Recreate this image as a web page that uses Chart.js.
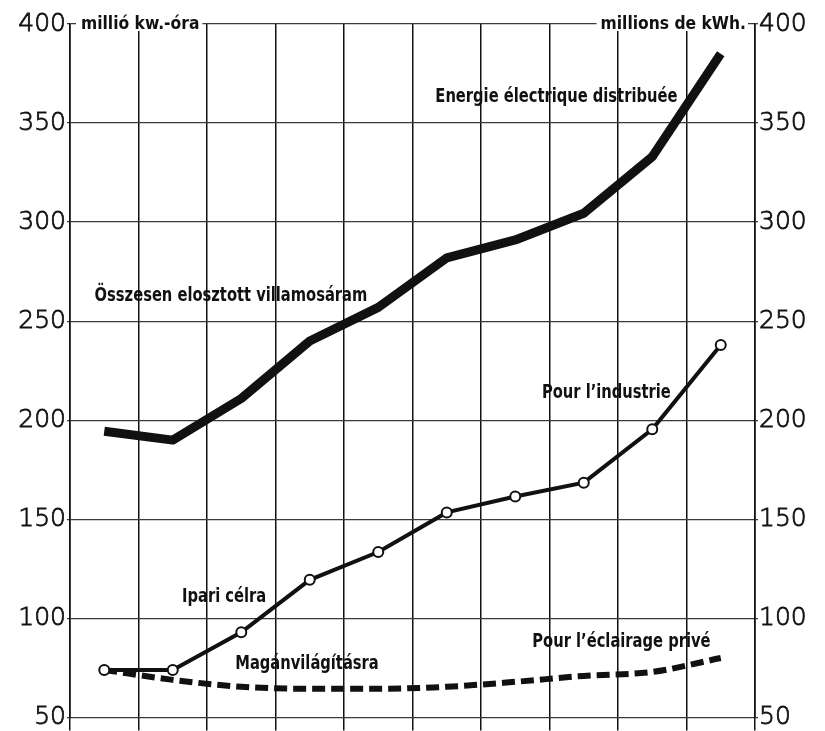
<!DOCTYPE html>
<html lang="hu">
<head>
<meta charset="UTF-8">
<title>Összesen elosztott villamosáram</title>
<script src="https://cdn.jsdelivr.net/npm/chart.js@4.4.1/dist/chart.umd.min.js"></script>
<style>
  html, body { margin: 0; padding: 0; background: #fff; }
</style>
</head>
<body>
<canvas id="chart" width="825" height="731"></canvas>
<script>
// adatok, millió kWh
const periods = ['1', '2', '3', '4', '5', '6', '7', '8', '9', '10'];
const totalDistributed = [194.5, 190, 211, 240, 257, 282, 291, 304.5, 333, 385];
const industry = [74, 74, 93, 119.5, 133.5, 153.5, 161.5, 168.5, 195.5, 238];
const privateLighting = [74, 69, 65.5, 64.5, 64.5, 65.5, 68, 71, 73, 80];
const yTicks = [50, 100, 150, 200, 250, 300, 350, 400];

// feliratok: szöveg, kategória index (x), érték (y)
const seriesLabels = [
  ['Összesen elosztott villamosáram', 1.85, 262.5],
  ['Energie électrique distribuée', 6.6, 363],
  ['Pour l\u2019industrie', 7.33, 213.7],
  ['Ipari célra', 1.75, 111],
  ['Magánvilágításra', 2.96, 77],
  ['Pour l\u2019éclairage privé', 7.55, 88.3]
];
const unitLeft = 'millió kw.-óra';
const unitRight = 'millions de kWh.';

const INK = '#111';
const labelFont = 'bold 19px "DejaVu Sans Condensed", "DejaVu Sans", sans-serif';
const narrow = 0.86; // a nyomtatott betű keskenyebb
const tickFont = { family: '"DejaVu Sans", sans-serif', size: 25, weight: '200', lineHeight: 1 };

function squeezed(ctx, text, x, y, k) {
  ctx.save();
  ctx.translate(x, y);
  ctx.scale(k, 1);
  ctx.fillText(text, 0, 0);
  ctx.restore();
}

// szöveges feliratok a görbék mellé
const textPlugin = {
  id: 'texts',
  afterDraw(chart) {
    const ctx = chart.ctx;
    const x = chart.scales.x, y = chart.scales.y;
    const area = chart.chartArea;
    const step = x.getPixelForValue(1) - x.getPixelForValue(0);
    ctx.save();
    ctx.font = labelFont;
    ctx.fillStyle = INK;
    ctx.textBaseline = 'middle';
    ctx.textAlign = 'center';
    seriesLabels.forEach(([t, i, v]) => {
      squeezed(ctx, t, x.getPixelForValue(0) + i * step, y.getPixelForValue(v), narrow);
    });

    // mértékegység a felső vonalon
    const top = y.getPixelForValue(400);
    const k = 0.96;
    ctx.font = 'bold 18px "DejaVu Sans Condensed", "DejaVu Sans", sans-serif';
    ctx.textAlign = 'left';
    let w = ctx.measureText(unitLeft).width * k;
    ctx.fillStyle = '#fff';
    ctx.fillRect(area.left + 6, top - 9, w + 8, 16);
    ctx.fillStyle = INK;
    squeezed(ctx, unitLeft, area.left + 11, top, k);

    w = ctx.measureText(unitRight).width * k;
    const rx = area.right - 9;
    ctx.fillStyle = '#fff';
    ctx.fillRect(rx - w - 4, top - 9, w + 6, 16);
    ctx.fillStyle = INK;
    ctx.textAlign = 'right';
    squeezed(ctx, unitRight, rx, top, k);
    ctx.restore();
  }
};

const yAxis = (pos) => ({
  position: pos,
  min: 50,
  max: 400,
  afterBuildTicks: s => { s.ticks = yTicks.map(v => ({ value: v })); },
  afterFit: s => { s.width = 70; },
  border: { display: true, color: INK, width: 1.6 },
  grid: {
    drawOnChartArea: pos === 'left',
    color: '#3a3a3a',
    lineWidth: 1.3,
    tickLength: 3
  },
  ticks: { font: tickFont, color: INK, padding: 1, textStrokeColor: INK, textStrokeWidth: 0.8 }
});

new Chart(document.getElementById('chart'), {
  type: 'line',
  data: {
    labels: periods,
    datasets: [
      {
        data: industry,
        borderColor: INK,
        borderWidth: 4,
        pointRadius: 5,
        pointBackgroundColor: '#fff',
        pointBorderColor: INK,
        pointBorderWidth: 2,
        tension: 0,
        order: 0
      },
      {
        data: totalDistributed,
        borderColor: INK,
        borderWidth: 9,
        borderJoinStyle: 'round',
        pointRadius: 0,
        tension: 0,
        order: 1
      },
      {
        data: privateLighting,
        borderColor: INK,
        borderWidth: 6,
        borderDash: [13, 6],
        pointRadius: 0,
        cubicInterpolationMode: 'monotone',
        order: 2
      }
    ]
  },
  options: {
    responsive: false,
    animation: false,
    layout: { padding: { top: 24, bottom: 0, left: 0, right: 0 } },
    plugins: { legend: { display: false }, tooltip: { enabled: false } },
    scales: {
      x: {
        type: 'category',
        offset: true,
        border: { display: false },
        grid: { offset: true, color: INK, lineWidth: 1.5, tickLength: 13 },
        ticks: { display: false }
      },
      y: yAxis('left'),
      y2: yAxis('right')
    }
  },
  plugins: [textPlugin]
});
</script>
</body>
</html>
